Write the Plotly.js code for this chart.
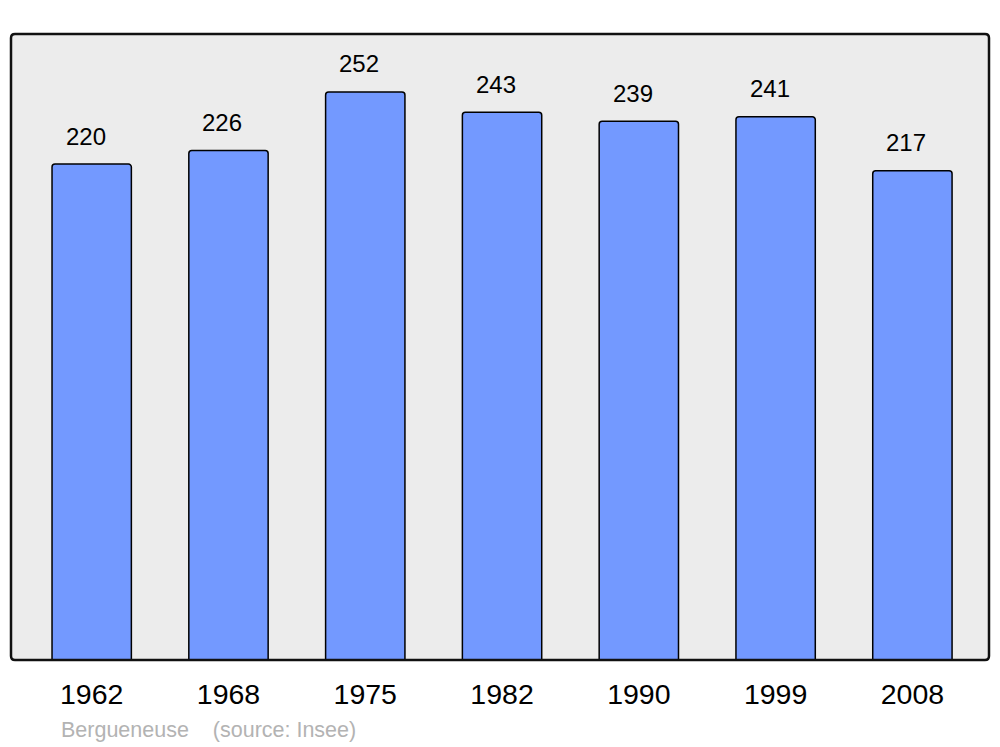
<!DOCTYPE html>
<html><head><meta charset="utf-8">
<script src="https://cdn.plot.ly/plotly-3.0.1.min.js"></script>
<style>html,body{margin:0;padding:0;background:#fff}</style>
</head><body>
<div id="chart" style="width:1000px;height:747px"></div>
<script>
const years = ["1962","1968","1975","1982","1990","1999","2008"];
const population = [220,226,252,243,239,241,217];
const sourceText = "Bergueneuse    (source: Insee)";

const W = 1000, H = 747, mL = 11, mR = 11, mT = 34, mB = 87;
const pw = W - mL - mR, ph = H - mT - mB;
const r = 4, rx = r / pw, ry = r / ph;
const framePath = `M ${rx},0 L ${1-rx},0 Q 1,0 1,${ry} L 1,${1-ry} Q 1,1 ${1-rx},1 L ${rx},1 Q 0,1 0,${1-ry} L 0,${ry} Q 0,0 ${rx},0 Z`;
const FONT = "Liberation Sans, Arial, sans-serif";

const trace = {
  type: "bar", x: years, y: population, width: 0.58,
  marker: {color: "#7399ff", line: {color: "#000", width: 1.5}, cornerradius: 3},
  hoverinfo: "none"
};

const annotations = years.map((yr, i) => ({
  x: i, y: population[i], xref: "x", yref: "y", text: String(population[i]),
  showarrow: false, yshift: 28, xshift: -6,
  font: {family: FONT, size: 24, color: "#000"}
}));
annotations.push({
  xref: "paper", yref: "paper", x: (59 - mL) / pw, y: -(730 - (H - mB)) / ph,
  xanchor: "left", yanchor: "middle", showarrow: false, text: sourceText,
  font: {family: FONT, size: 21.5, color: "#b3b3b3"}
});

const layout = {
  width: W, height: H, margin: {l: mL, r: mR, t: mT, b: mB, pad: 0},
  paper_bgcolor: "#fff", plot_bgcolor: "#ececec", showlegend: false,
  xaxis: {type: "category", range: [-0.59, 6.56], showgrid: false, zeroline: false,
    showline: false, ticks: "", ticklabelstandoff: 14,
    tickfont: {family: FONT, size: 28.5, color: "#000"}},
  yaxis: {range: [0, 277.7], showgrid: false, zeroline: false, showline: false,
    showticklabels: false, ticks: ""},
  shapes: [{type: "path", xref: "paper", yref: "paper", path: framePath,
    line: {color: "#111", width: 2.5}, layer: "above"}],
  annotations: annotations
};
Plotly.newPlot("chart", [trace], layout, {displayModeBar: false, staticPlot: true});
</script>
</body></html>
